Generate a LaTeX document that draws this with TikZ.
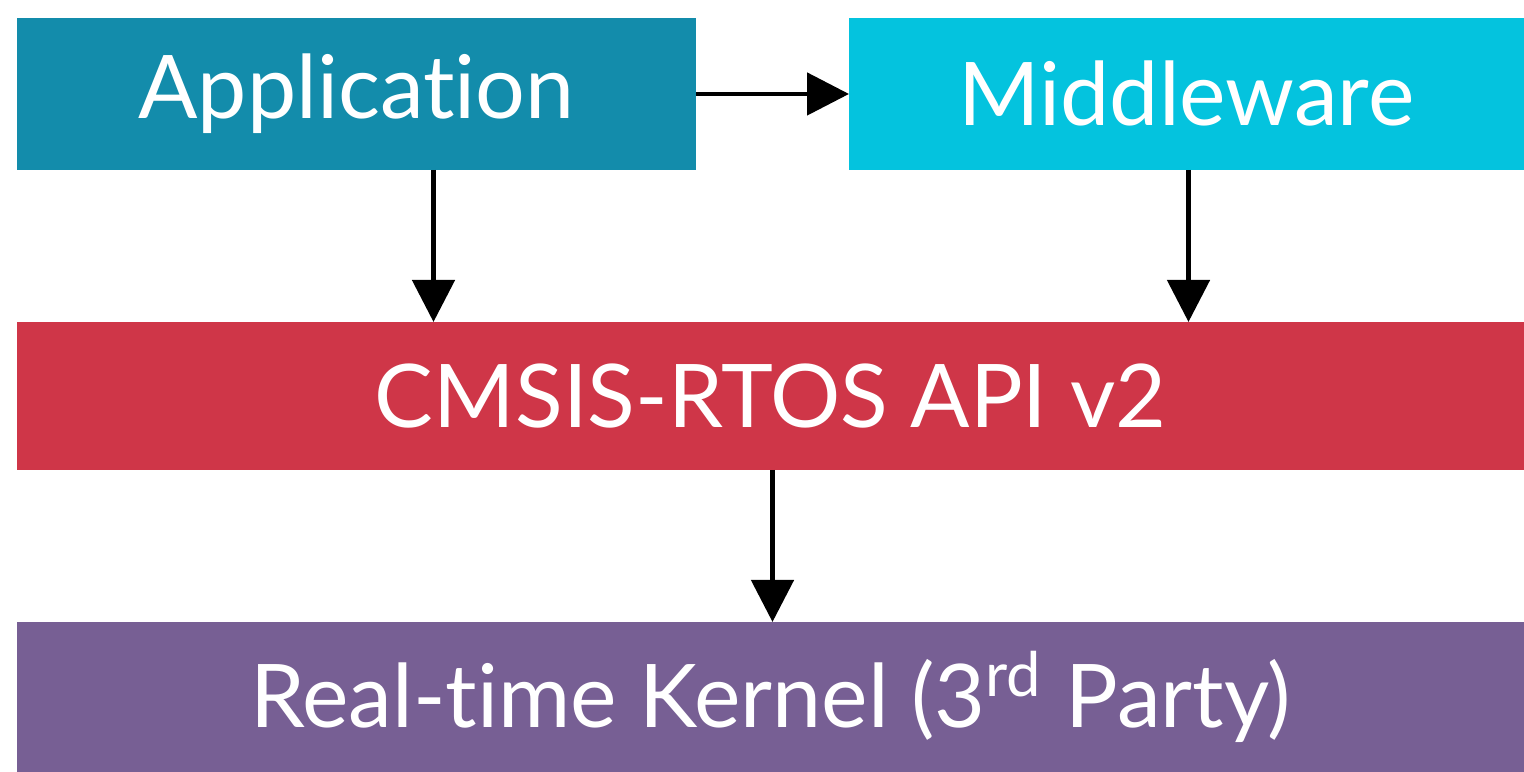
\documentclass[tikz,border=0pt]{standalone}
\usepackage{fontspec}
\setmainfont[Ligatures={NoCommon,NoRequired,NoContextual}]{Lato}
\usetikzlibrary{arrows.meta}
\definecolor{appcol}{RGB}{19,140,171}
\definecolor{midcol}{RGB}{4,195,222}
\definecolor{apicol}{RGB}{207,54,72}
\definecolor{kercol}{RGB}{119,95,148}
\begin{document}
\begin{tikzpicture}[line join=round, >={Triangle[length=0.42cm,width=0.42cm]},
		layer/.style={inner sep=0, outer sep=0, minimum height=1.5cm, text=white, font=\fontsize{25}{30}\selectfont},
		link/.style={->, line width=1.4pt}]
			\useasboundingbox (0,0) rectangle (15.24,7.72);
			% upper row
			\node[layer, fill=appcol, minimum width=6.79cm, minimum height=1.52cm] (app) at (3.565,6.78) {Application};
			\node[layer, fill=midcol, minimum width=6.75cm, minimum height=1.52cm] (mid) at (11.865,6.78) {Middleware};
			% API and kernel
			\node[layer, fill=apicol, minimum width=15.07cm, minimum height=1.48cm] (api) at (7.705,3.76) {CMSIS-RTOS API v2};
			\node[layer, fill=kercol, minimum width=15.07cm] (kernel) at (7.705,0.75) {Real-time Kernel (3\textsuperscript{rd} Party)};
			\draw[link] (app.east) -- (mid.west);
			\draw[link] ([xshift=0.77cm]app.south) -- ([xshift=0.77cm]app.south |- api.north);
			\draw[link] ([xshift=0.02cm]mid.south) -- ([xshift=0.02cm]mid.south |- api.north);
			\draw[link] ([xshift=0.02cm]api.south) -- ([xshift=0.02cm]api.south |- kernel.north);
		\end{tikzpicture}
\end{document}
